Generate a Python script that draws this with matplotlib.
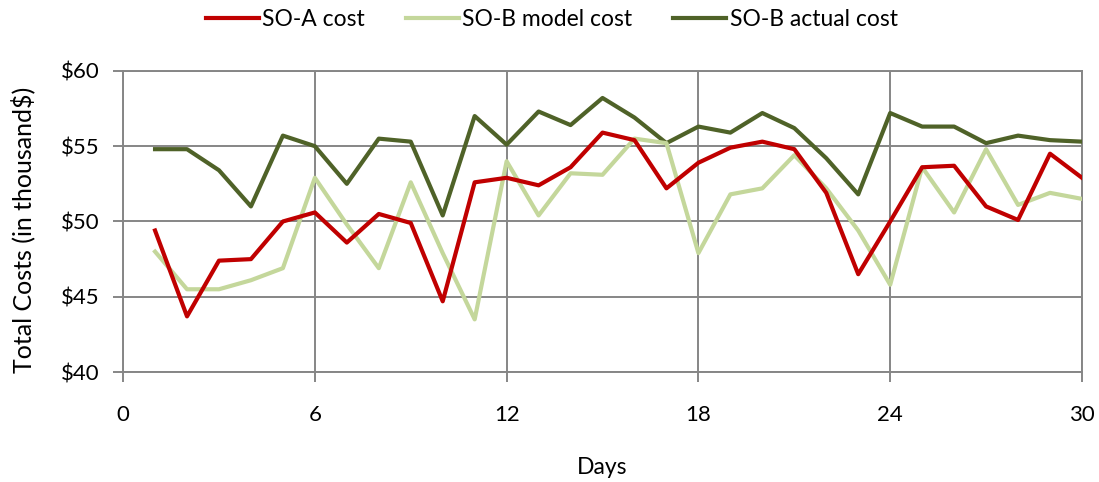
import numpy as np
import matplotlib
matplotlib.use('Agg')
import matplotlib.pyplot as plt
from matplotlib.ticker import FuncFormatter

plt.rcParams['font.family'] = ['Lato', 'DejaVu Sans']

# data
days = list(range(1, 31))
so_a = [49.4, 43.7, 47.4, 47.5, 50.0, 50.6, 48.6, 50.5, 49.9, 44.7,
        52.6, 52.9, 52.4, 53.6, 55.9, 55.4, 52.2, 53.9, 54.9, 55.3,
        54.8, 51.9, 46.5, 50.0, 53.6, 53.7, 51.0, 50.1, 54.5, 52.9]
so_b_model = [48.0, 45.5, 45.5, 46.1, 46.9, 52.9, 49.8, 46.9, 52.6, 47.9,
              43.5, 54.0, 50.4, 53.2, 53.1, 55.5, 55.2, 47.9, 51.8, 52.2,
              54.4, 52.2, 49.4, 45.8, 53.6, 50.6, 54.8, 51.1, 51.9, 51.5]
so_b_actual = [54.8, 54.8, 53.4, 51.0, 55.7, 55.0, 52.5, 55.5, 55.3, 50.4,
               57.0, 55.1, 57.3, 56.4, 58.2, 56.9, 55.2, 56.3, 55.9, 57.2,
               56.2, 54.2, 51.8, 57.2, 56.3, 56.3, 55.2, 55.7, 55.4, 55.3]

x_ticks = [0, 6, 12, 18, 24, 30]
y_ticks = [40, 45, 50, 55, 60]

fig = plt.figure(figsize=(10.99, 4.82), dpi=100)
ax = fig.add_axes([0.112, 0.228, 0.8725, 0.625])

grid_col = '#868686'
ax.plot(days, so_b_actual, color='#4F6228', lw=3, label='SO-B actual cost', zorder=3)
ax.plot(days, so_b_model, color='#C4D79B', lw=3, label='SO-B model cost', zorder=3)
ax.plot(days, so_a, color='#C00000', lw=3, label='SO-A cost', zorder=4)

ax.set_xlim(0, 30)
ax.set_ylim(40, 60)
ax.set_xticks(x_ticks)
ax.set_yticks(y_ticks)
ax.yaxis.set_major_formatter(FuncFormatter(lambda v, p: '${:.0f}'.format(v)))
ax.grid(True, color=grid_col, lw=1.4)
ax.set_axisbelow(True)
for s in ax.spines.values():
    s.set_color(grid_col)
    s.set_linewidth(1.4)
ax.tick_params(axis='both', colors=grid_col, length=7, width=1.4, labelsize=16,
               labelcolor='black')
ax.tick_params(axis='x', pad=17)
ax.tick_params(axis='y', pad=10)

ax.set_xlabel('Days', fontsize=16.5)
ax.set_ylabel('Total Costs (in thousand$)', fontsize=18)
ax.xaxis.set_label_coords(0.5, -0.282)
ax.yaxis.set_label_coords(-0.092, 0.473)

handles, labels = ax.get_legend_handles_labels()
order = [2, 1, 0]
fig.legend([handles[i] for i in order], [labels[i] for i in order],
           loc='upper center', bbox_to_anchor=(0.502, 1.025), ncol=3, frameon=False,
           fontsize=16.5, handlelength=2.3, handletextpad=0.15, columnspacing=1.8)

fig.savefig('out.png', dpi=100)
